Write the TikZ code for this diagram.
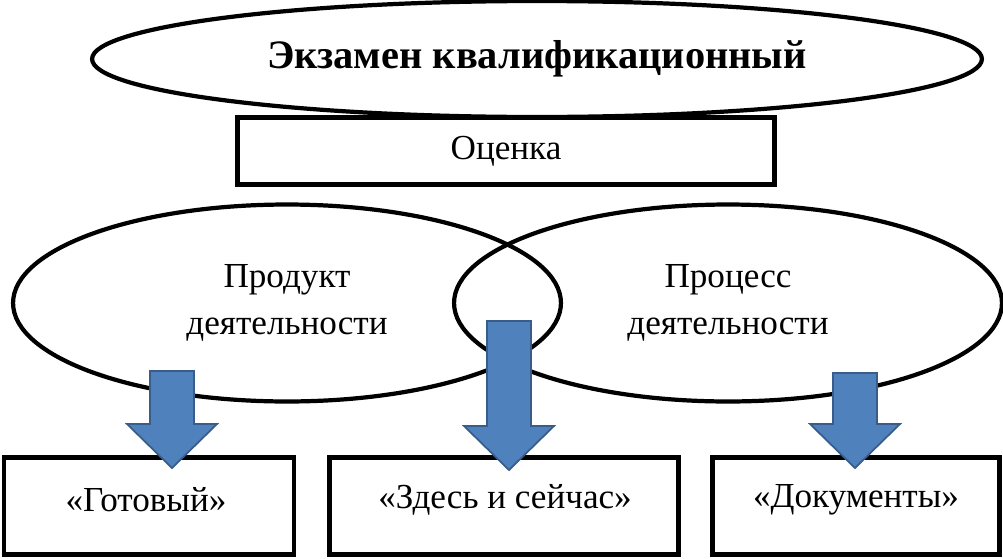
\documentclass[tikz,border=0pt]{standalone}
\usepackage{fontspec}
\setmainfont{Liberation Serif}
\usetikzlibrary{shapes.geometric,calc}

\definecolor{arrowfill}{HTML}{4F81BD}
\definecolor{arrowline}{HTML}{385D8A}

% block arrow: name, x, top y, tip y
\newcommand{\bluearrow}[4]{%
  \coordinate (#1top) at (#2,#3);
  \coordinate (#1tip) at (#2,#4);
  \draw[bigarrow] ($(#1top)+(-22,0)$) -- ($(#1top)+(22,0)$)
    -- ($(#1tip)+(22,-44)$) -- ($(#1tip)+(45,-44)$) -- (#1tip)
    -- ($(#1tip)+(-45,-44)$) -- ($(#1tip)+(-22,-44)$) -- cycle;
}

\begin{document}
\begin{tikzpicture}[x=0.02cm, y=-0.02cm,
    oval/.style={draw, ellipse, line width=2.4pt, inner sep=0pt, align=center, font=\fontsize{20}{27}\selectfont},
    frame/.style={draw, rectangle, line width=2.4pt, inner sep=0pt},
    label/.style={font=\fontsize{20}{24}\selectfont},
    bigarrow/.style={fill=arrowfill, draw=arrowline, line width=1pt, line join=miter}]
    \useasboundingbox (0,0) rectangle (1003,558);

    % Exam
    \node[oval, minimum width=17.8cm, minimum height=2.32cm, font=\fontsize{23}{28}\selectfont\bfseries] (exam) at (537,59) {Экзамен квалификационный};

    % Assessment
    \node[frame, minimum width=10.74cm, minimum height=1.34cm, label] (mark) at (506,151) {Оценка};

    % Product and process
    \node[oval, minimum width=10.96cm, minimum height=3.94cm] (product) at (287,303) {Продукт\\деятельности};
    \node[oval, minimum width=10.96cm, minimum height=3.94cm] (process) at (728,303) {Процесс\\деятельности};

    % Result boxes
    \node[frame, minimum width=5.8cm, minimum height=1.94cm] (ready) at (149,506) {};
    \node[label] (readytext) at (146,500) {«Готовый»};
    \node[frame, minimum width=6.98cm, minimum height=1.94cm] (now) at (504,506) {};
    \node[label] (nowtext) at (505,500) {«Здесь и сейчас»};
    \node[frame, minimum width=5.74cm, minimum height=1.94cm] (docs) at (856,506) {};
    \node[label] (docstext) at (856,500) {«Документы»};

    % Arrows
    \bluearrow{a}{172}{371}{468}
    \bluearrow{b}{509}{321}{470}
    \bluearrow{c}{855}{373}{468}

\end{tikzpicture}
\end{document}
